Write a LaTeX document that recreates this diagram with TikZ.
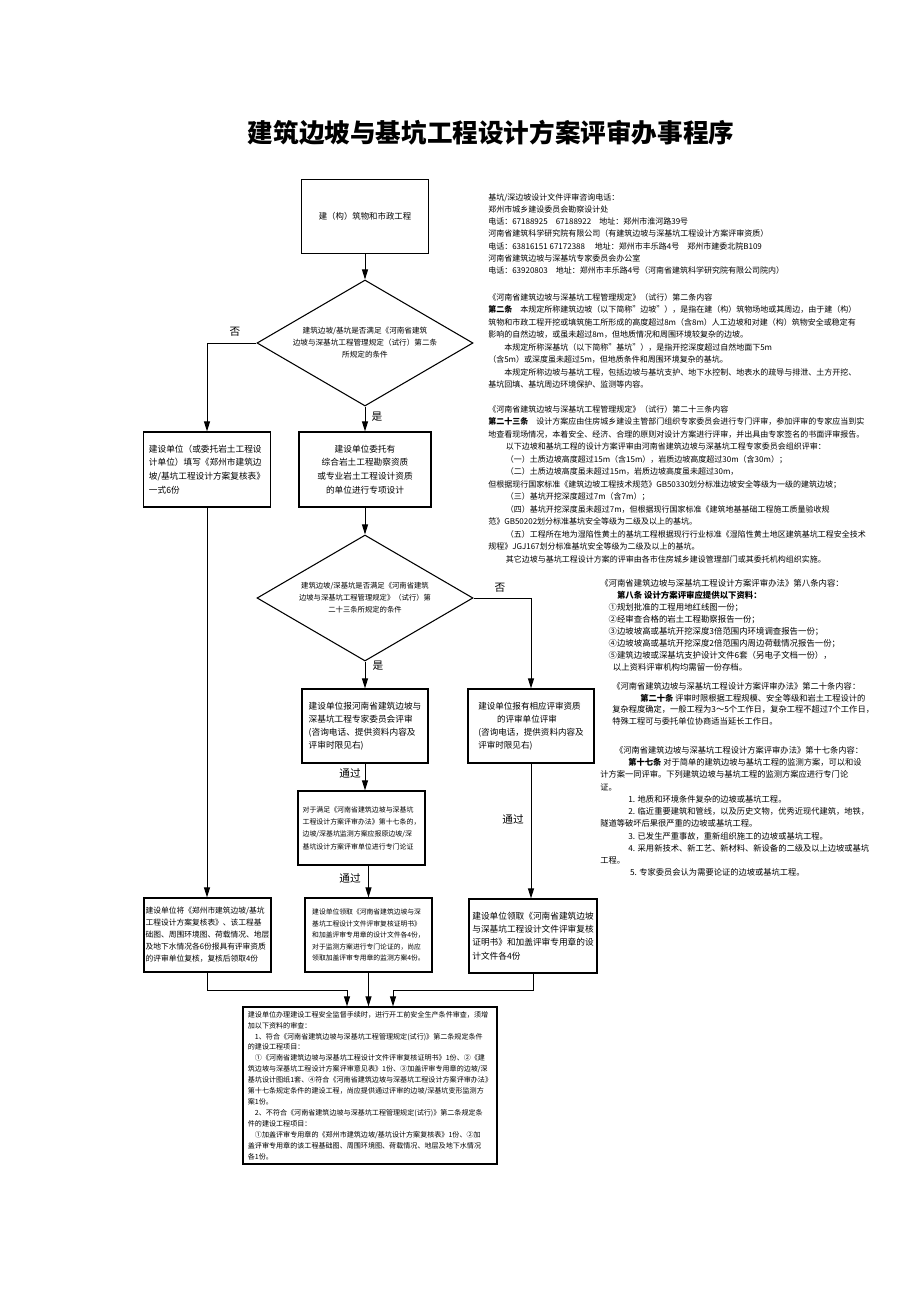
\documentclass[tikz,border=0pt]{standalone}
\usepackage{fontspec}
\setmainfont{Noto Sans CJK SC}
\usetikzlibrary{shapes.geometric,arrows.meta,calc}
\tikzset{
  heading/.style={font=\bfseries\fontsize{19.2}{20}\selectfont, inner sep=0pt},
  box/.style={draw=black, line width=0.9pt, minimum width=95.25pt, minimum height=55.5pt, inner sep=1pt, align=left},
  decision/.style={diamond, draw=black, line width=0.8pt, inner sep=0pt, shape aspect=1.7,
    minimum width=162pt, minimum height=94.5pt, align=center},
  link/.style={draw=black, line width=0.75pt},
  arr/.style={link, -{Triangle[length=7.5pt,width=4.5pt]}},
  lab/.style={font=\fontsize{8}{8}\selectfont, inner sep=0pt},
  note/.style={align=left, anchor=north west, inner sep=0pt},
}

\begin{document}
\begin{tikzpicture}[x=0.75pt,y=-0.75pt]
  \useasboundingbox (0,0) rectangle (920,1302);
  \node[heading] (head) at (491,133) {建筑边坡与基坑工程设计方案评审办事程序};

  % flow chart, top to bottom
  \node[box, font=\fontsize{6.3}{9}\selectfont] (start) at (365,216.5) {建（构）筑物和市政工程};
  \node[decision, font=\fontsize{5.7}{9}\selectfont] (q1) at (365,343)
    {建筑边坡/基坑是否满足《河南省建筑\\边坡与深基坑工程管理规定（试行）第二条\\所规定的条件};
  \node[box, minimum height=56.25pt, font=\fontsize{6.5}{10.3}\selectfont] (fill) at (207,469.5)
    {建设单位（或委托岩土工程设\\计单位）填写《郑州市建筑边\\坡/基坑工程设计方案复核表》\\一式6份};
  \node[box, minimum width=99pt, minimum height=56.25pt, align=center, font=\fontsize{6.5}{10.3}\selectfont] (design) at (365,469.5)
    {建设单位委托有\\综合岩土工程勘察资质\\或专业岩土工程设计资质\\的单位进行专项设计};
  \node[decision, font=\fontsize{5.5}{9}\selectfont] (q2) at (365,598)
    {建筑边坡/深基坑是否满足《河南省建筑\\边坡与深基坑工程管理规定》（试行）第\\二十三条所规定的条件};
  \node[box, minimum width=94.5pt, font=\fontsize{6.5}{9.8}\selectfont] (expert) at (365,726)
    {建设单位报河南省建筑边坡与\\深基坑工程专家委员会评审\\(咨询电话、提供资料内容及\\评审时限见右)};
  \node[box, minimum width=94.5pt, font=\fontsize{6.4}{9.8}\selectfont] (unit) at (531,726)
    {建设单位报有相应评审资质\\\hspace*{2.2em}的评审单位评审\\(咨询电话，提供资料内容及\\评审时限见右)};
  \node[box, font=\fontsize{5.2}{9.2}\selectfont] (monitor) at (361.5,828)
    {对于满足《河南省建筑边坡与深基坑\\工程设计方案评审办法》第十七条的，\\边坡/深基坑监测方案应报原边坡/深\\基坑设计方案评审单位进行专门论证};
  \node[box, font=\fontsize{5.8}{9}\selectfont] (review) at (207.5,935)
    {建设单位将《郑州市建筑边坡/基坑\\工程设计方案复核表》、该工程基\\础图、周围环境图、荷载情况、地层\\及地下水情况各6份报具有评审资质\\的评审单位复核，复核后领取4份};
  \node[box, font=\fontsize{5.1}{8.6}\selectfont] (cert) at (368.5,935)
    {建设单位领取《河南省建筑边坡与深\\基坑工程设计文件评审复核证明书》\\和加盖评审专用章的设计文件各4份，\\对于监测方案进行专门论证的，尚应\\领取加盖评审专用章的监测方案4份。};
  \node[box, minimum width=96pt, font=\fontsize{6.5}{10}\selectfont] (certb) at (533,936)
    {建设单位领取《河南省建筑边坡\\与深基坑工程设计文件评审复核\\证明书》和加盖评审专用章的设\\计文件各4份};
  \node[box, minimum width=190.5pt, minimum height=117.75pt, inner sep=2pt, font=\fontsize{5.3}{8.2}\selectfont] (safety) at (370,1085.5)
    {建设单位办理建设工程安全监督手续时，进行开工前安全生产条件审查，须增\\
     加以下资料的审查：\\
     \hspace*{1em}1、符合《河南省建筑边坡与深基坑工程管理规定(试行)》第二条规定条件\\
     的建设工程项目：\\
     \hspace*{1em}①《河南省建筑边坡与深基坑工程设计文件评审复核证明书》1份、②《建\\
     筑边坡与深基坑工程设计方案评审意见表》1份、③加盖评审专用章的边坡/深\\
     基坑设计图纸1套、④符合《河南省建筑边坡与深基坑工程设计方案评审办法》\\
     第十七条规定条件的建设工程，尚应提供通过评审的边坡/深基坑变形监测方\\
     案1份。\\
     \hspace*{1em}2、不符合《河南省建筑边坡与深基坑工程管理规定(试行)》第二条规定条\\
     件的建设工程项目：\\
     \hspace*{1em}①加盖评审专用章的《郑州市建筑边坡/基坑设计方案复核表》1份、②加\\
     盖评审专用章的该工程基础图、周围环境图、荷载情况、地层及地下水情况\\
     各1份。};

  % yes / no / pass labels
  \node[lab] (no1) at (235,332) {否};
  \node[lab] (yes1) at (377,417) {是};
  \node[lab] (no2) at (500,588) {否};
  \node[lab] (yes2) at (378,666) {是};
  \node[lab] (pass1) at (350,773) {通过};
  \node[lab] (pass2) at (350,878) {通过};
  \node[lab] (pass3) at (513,819) {通过};

  \draw[arr] (start.south) -- (q1.north);
  \draw[arr] (q1.west) -| (fill.north);
  \draw[arr] (q1.south) -- (design.north);
  \draw[arr] (design.south) -- (q2.north);
  \draw[arr] (q2.east) -| (unit.north);
  \draw[arr] (q2.south) -- (expert.north);
  \draw[arr] (expert.south) -- (expert.south |- monitor.north);
  \draw[arr] (monitor.south -| cert.north) -- (cert.north);
  \draw[arr] (unit.south) -- (unit.south |- certb.north);
  \draw[arr] (fill.south) -- (fill.south |- review.north);

  % three lines meet the last box
  \coordinate (inA) at ($(safety.north)+(-23,0)$);
  \coordinate (inB) at (safety.north -| cert.south);
  \coordinate (inC) at ($(safety.north)+(23,0)$);
  \draw[arr] (review.south) -- ++(0,18) -| (inA);
  \draw[arr] (cert.south) -- (inB);
  \draw[arr] (certb.south) -- ++(0,17) -| (inC);

  % notes on the right
  \node[note, font=\fontsize{6}{9.2}\selectfont] (tel) at (488,193)
    {基坑/深边坡设计文件评审咨询电话：\\
     郑州市城乡建设委员会勘察设计处\\
     电话：67188925\quad 67188922\quad 地址：郑州市淮河路39号\\
     河南省建筑科学研究院有限公司（有建筑边坡与深基坑工程设计方案评审资质）\\
     电话：63816151 67172388\quad\ 地址：郑州市丰乐路4号\quad 郑州市建委北院B109\\
     河南省建筑边坡与深基坑专家委员会办公室\\
     电话：63920803\quad 地址：郑州市丰乐路4号（河南省建筑科学研究院有限公司院内）};
  \node[note, font=\fontsize{6}{9.4}\selectfont] (art2) at (488,293)
    {《河南省建筑边坡与深基坑工程管理规定》（试行）第二条内容\\
     {\bfseries 第二条}\quad 本规定所称建筑边坡（以下简称"边坡"），是指在建（构）筑物场地或其周边，由于建（构）\\
     筑物和市政工程开挖或填筑施工所形成的高度超过8m（含8m）人工边坡和对建（构）筑物安全或稳定有\\
     影响的自然边坡，或虽未超过8m，但地质情况和周围环境较复杂的边坡。\\
     \hspace*{2em}本规定所称深基坑（以下简称"基坑"），是指开挖深度超过自然地面下5m\\
     （含5m）或深度虽未超过5m，但地质条件和周围环境复杂的基坑。\\
     \hspace*{2em}本规定所称边坡与基坑工程，包括边坡与基坑支护、地下水控制、地表水的疏导与排泄、土方开挖、\\
     基坑回填、基坑周边环境保护、监测等内容。};
  \node[note, font=\fontsize{6}{9.4}\selectfont] (art23) at (488,405)
    {《河南省建筑边坡与深基坑工程管理规定》（试行）第二十三条内容\\
     {\bfseries 第二十三条}\quad 设计方案应由住房城乡建设主管部门组织专家委员会进行专门评审，参加评审的专家应当到实\\
     地查看现场情况，本着安全、经济、合理的原则对设计方案进行评审，并出具由专家签名的书面评审报告。\\
     \hspace*{2.2em}以下边坡和基坑工程的设计方案评审由河南省建筑边坡与深基坑工程专家委员会组织评审：\\
     \hspace*{2.2em}（一）土质边坡高度超过15m（含15m），岩质边坡高度超过30m（含30m）；\\
     \hspace*{2.2em}（二）土质边坡高度虽未超过15m，岩质边坡高度虽未超过30m，\\
     但根据现行国家标准《建筑边坡工程技术规范》GB50330划分标准边坡安全等级为一级的建筑边坡；\\
     \hspace*{2.2em}（三）基坑开挖深度超过7m（含7m）；\\
     \hspace*{2.2em}（四）基坑开挖深度虽未超过7m，但根据现行国家标准《建筑地基基础工程施工质量验收规\\
     范》GB50202划分标准基坑安全等级为二级及以上的基坑。\\
     \hspace*{2.2em}（五）工程所在地为湿陷性黄土的基坑工程根据现行行业标准《湿陷性黄土地区建筑基坑工程安全技术\\
     规程》JGJ167划分标准基坑安全等级为二级及以上的基坑。\\
     \hspace*{2.2em}其它边坡与基坑工程设计方案的评审由各市住房城乡建设管理部门或其委托机构组织实施。};
  \node[note, font=\fontsize{6.3}{9}\selectfont] (art8) at (600,579)
    {《河南省建筑边坡与深基坑工程设计方案评审办法》第八条内容：\\
     \hspace*{2em}{\bfseries 第八条\ 设计方案评审应提供以下资料：}\\
     \hspace*{1em}①规划批准的工程用地红线图一份；\\
     \hspace*{1em}②经审查合格的岩土工程勘察报告一份；\\
     \hspace*{1em}③边坡坡高或基坑开挖深度3倍范围内环境调查报告一份；\\
     \hspace*{1em}④边坡坡高或基坑开挖深度2倍范围内周边荷载情况报告一份；\\
     \hspace*{1em}⑤建筑边坡或深基坑支护设计文件6套（另电子文档一份），\\
     \hspace*{1.5em}以上资料评审机构均需留一份存档。};
  \node[note, font=\fontsize{6.2}{8.8}\selectfont] (art20) at (612,682)
    {《河南省建筑边坡与深基坑工程设计方案评审办法》第二十条内容：\\
     \hspace*{3.4em}{\bfseries 第二十条}\ 评审时限根据工程规模、安全等级和岩土工程设计的\\
     复杂程度确定，一般工程为3～5个工作日，复杂工程不超过7个工作日，\\
     特殊工程可与委托单位协商适当延长工作日。};
  \node[note, font=\fontsize{6.2}{9.2}\selectfont] (art17) at (600,746)
    {\hspace*{1.8em}《河南省建筑边坡与深基坑工程设计方案评审办法》第十七条内容：\\
     \hspace*{3.4em}{\bfseries 第十七条}\ 对于简单的建筑边坡与基坑工程的监测方案，可以和设\\
     计方案一同评审。下列建筑边坡与基坑工程的监测方案应进行专门论\\
     证。\\
     \hspace*{3.4em}1. 地质和环境条件复杂的边坡或基坑工程。\\
     \hspace*{3.4em}2. 临近重要建筑和管线，以及历史文物，优秀近现代建筑，地铁，\\
     隧道等破坏后果很严重的边坡或基坑工程。\\
     \hspace*{3.4em}3. 已发生严重事故，重新组织施工的边坡或基坑工程。\\
     \hspace*{3.4em}4. 采用新技术、新工艺、新材料、新设备的二级及以上边坡或基坑\\
     工程。\\
     \hspace*{3.6em}5. 专家委员会认为需要论证的边坡或基坑工程。};
\end{tikzpicture}
\end{document}
